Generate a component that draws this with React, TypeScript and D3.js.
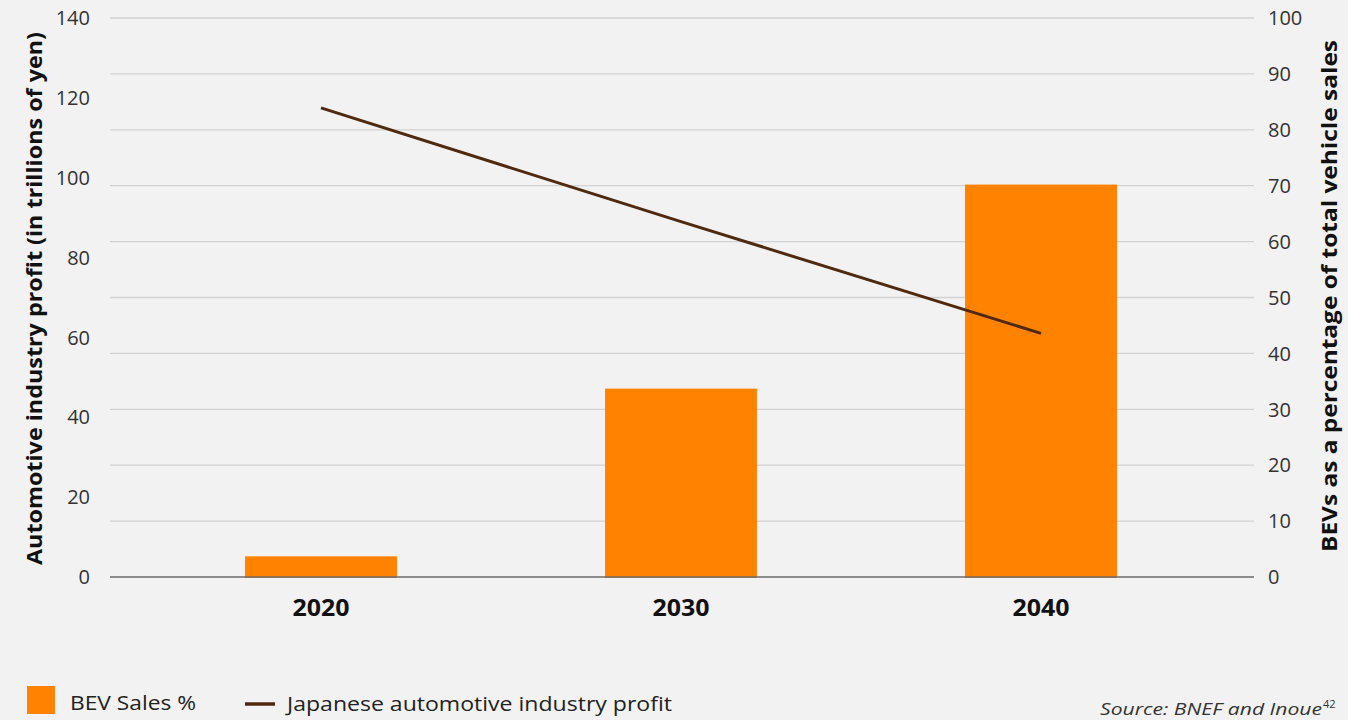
import React, {useEffect, useRef} from 'react';
import * as d3 from 'd3';

// years on the x axis
const years = ['2020', '2030', '2040'];
// BEV share of total vehicle sales (%), right axis
const bevSales = [3.7, 33.7, 70.2];
// Japanese automotive industry profit (trillions of yen), left axis
const profit = [117.5, 89, 61];
const leftTicks = [0, 20, 40, 60, 80, 100, 120, 140];
const rightTicks = [0, 10, 20, 30, 40, 50, 60, 70, 80, 90, 100];

const W = 1348;
const H = 720;
const FONT = '"Open Sans", Lato, sans-serif';

const App: React.FC = () => {
  const svgRef = useRef<SVGSVGElement>(null);

  useEffect(() => {
    const svg = d3.select(svgRef.current);
    svg.selectAll('*').remove();

    svg.append('rect').attr('width', W).attr('height', H).attr('fill', '#f2f2f2');

    const plot = {left: 110, right: 1254, top: 18, bottom: 577};

    // band scale for the bars
    const x = d3
      .scaleBand()
      .domain(years)
      .range([141, 1221])
      .paddingInner(0.578)
      .paddingOuter(0.289);
    const yLeft = d3.scaleLinear().domain([0, 140]).range([plot.bottom, plot.top]);
    const yRight = d3.scaleLinear().domain([0, 100]).range([plot.bottom, plot.top]);

    // gridlines follow the right axis ticks
    svg
      .append('g')
      .selectAll('line')
      .data(rightTicks.filter((d) => d > 0))
      .enter()
      .append('line')
      .attr('x1', plot.left)
      .attr('x2', plot.right)
      .attr('y1', (d) => yRight(d))
      .attr('y2', (d) => yRight(d))
      .attr('stroke', '#d2d2d2')
      .attr('stroke-width', 1.3);

    // bars
    svg
      .append('g')
      .selectAll('rect')
      .data(bevSales)
      .enter()
      .append('rect')
      .attr('x', (d, i) => x(years[i]))
      .attr('width', x.bandwidth())
      .attr('y', (d) => yRight(d))
      .attr('height', (d) => plot.bottom - yRight(d) + 1)
      .attr('fill', '#ff8200');

    // baseline
    svg
      .append('line')
      .attr('x1', plot.left)
      .attr('x2', plot.right)
      .attr('y1', plot.bottom)
      .attr('y2', plot.bottom)
      .attr('stroke', '#6b6b6b')
      .attr('stroke-width', 1.3);

    // profit line
    const line = d3
      .line<number>()
      .x((d, i) => x(years[i]) + x.bandwidth() / 2)
      .y((d) => yLeft(d));
    svg
      .append('path')
      .datum(profit)
      .attr('d', line)
      .attr('fill', 'none')
      .attr('stroke', '#4f2a0f')
      .attr('stroke-width', 3);

    // left tick labels
    svg
      .append('g')
      .selectAll('text')
      .data(leftTicks)
      .enter()
      .append('text')
      .attr('x', 90)
      .attr('y', (d) => yLeft(d))
      .attr('dy', '0.36em')
      .attr('text-anchor', 'end')
      .attr('font-family', FONT)
      .attr('font-size', 20)
      .attr('fill', '#333')
      .text((d) => d);

    // right tick labels
    svg
      .append('g')
      .selectAll('text')
      .data(rightTicks)
      .enter()
      .append('text')
      .attr('x', 1268)
      .attr('y', (d) => yRight(d))
      .attr('dy', '0.36em')
      .attr('font-family', FONT)
      .attr('font-size', 20)
      .attr('fill', '#333')
      .text((d) => d);

    // year labels
    svg
      .append('g')
      .selectAll('text')
      .data(years)
      .enter()
      .append('text')
      .attr('x', (d) => x(d) + x.bandwidth() / 2)
      .attr('y', 616)
      .attr('text-anchor', 'middle')
      .attr('font-family', FONT)
      .attr('font-size', 24)
      .attr('font-weight', 'bold')
      .attr('fill', '#111')
      .attr('textLength', 57)
      .attr('lengthAdjust', 'spacingAndGlyphs')
      .text((d) => d);

    // axis titles
    svg
      .append('text')
      .attr('transform', 'translate(42,298.5) rotate(-90)')
      .attr('text-anchor', 'middle')
      .attr('font-family', FONT)
      .attr('font-size', 21)
      .attr('font-weight', 'bold')
      .attr('fill', '#111')
      .attr('textLength', 533)
      .attr('lengthAdjust', 'spacingAndGlyphs')
      .text('Automotive industry profit (in trillions of yen)');
    svg
      .append('text')
      .attr('transform', 'translate(1337,296) rotate(-90)')
      .attr('text-anchor', 'middle')
      .attr('font-family', FONT)
      .attr('font-size', 21)
      .attr('font-weight', 'bold')
      .attr('fill', '#111')
      .attr('textLength', 512)
      .attr('lengthAdjust', 'spacingAndGlyphs')
      .text('BEVs as a percentage of total vehicle sales');

    // legend
    const lg = svg.append('g');
    lg.append('rect').attr('x', 27).attr('y', 686).attr('width', 28).attr('height', 28).attr('fill', '#ff8200');
    lg.append('text')
      .attr('x', 70)
      .attr('y', 710)
      .attr('font-family', FONT)
      .attr('font-size', 20)
      .attr('fill', '#222')
      .attr('textLength', 126)
      .attr('lengthAdjust', 'spacingAndGlyphs')
      .text('BEV Sales %');
    lg.append('line')
      .attr('x1', 245)
      .attr('x2', 275)
      .attr('y1', 704)
      .attr('y2', 704)
      .attr('stroke', '#4f2a0f')
      .attr('stroke-width', 3.5);
    lg.append('text')
      .attr('x', 287)
      .attr('y', 711)
      .attr('font-family', FONT)
      .attr('font-size', 20)
      .attr('fill', '#222')
      .attr('textLength', 385)
      .attr('lengthAdjust', 'spacingAndGlyphs')
      .text('Japanese automotive industry profit');

    // source
    svg
      .append('text')
      .attr('x', 1100)
      .attr('y', 715)
      .attr('font-family', FONT)
      .attr('font-size', 17)
      .attr('font-style', 'italic')
      .attr('fill', '#333')
      .attr('textLength', 222)
      .attr('lengthAdjust', 'spacingAndGlyphs')
      .text('Source: BNEF and Inoue');
    svg
      .append('text')
      .attr('x', 1323)
      .attr('y', 708)
      .attr('font-family', FONT)
      .attr('font-size', 11)
      .attr('fill', '#333')
      .text('42');
  }, []);

  return (
    <div style={{position: 'absolute', left: 0, top: 0}}>
      <svg ref={svgRef} width={W} height={H} style={{display: 'block'}}></svg>
    </div>
  );
};

export default App;
